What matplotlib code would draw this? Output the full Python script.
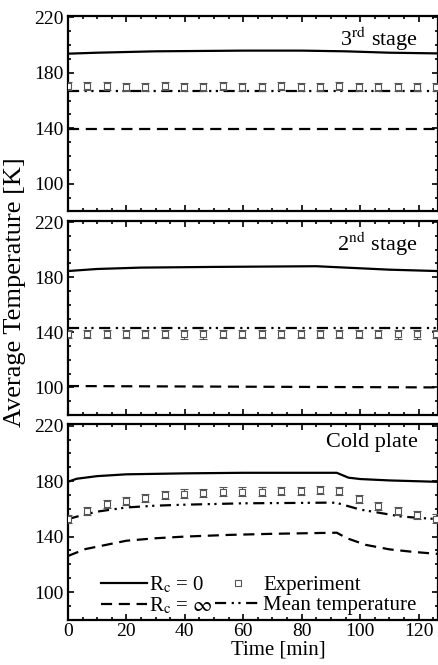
import matplotlib.pyplot as plt
from matplotlib.lines import Line2D
from matplotlib.ticker import MultipleLocator

plt.rcParams["font.family"] = ["Liberation Serif", "DejaVu Serif"]
plt.rcParams["mathtext.fontset"] = "stix"

# experiment sample times [min]
t_exp = [0, 6.6, 13.3, 19.9, 26.5, 33.2, 39.8, 46.4, 53.1, 59.7,
         66.3, 73.0, 79.6, 86.2, 92.9, 99.5, 106.1, 112.8, 119.4, 126.0]

# 3rd stage
t_s3 = [0, 10, 30, 60, 80, 95, 110, 126.5]
rc0_s3 = [193.8, 194.5, 195.5, 196.0, 196.0, 195.5, 194.5, 194.0]
t_flat = [0, 126.5]
rcinf_s3 = [139.5, 139.5]
mean_s3 = [167.0, 167.0]
exp_s3 = [170.5, 170.5, 170.5, 170, 170, 170.5, 170, 170, 170.5, 170,
          170, 170.5, 170, 170, 170.5, 170, 170, 170, 170, 170]

# 2nd stage
t_s2 = [0, 10, 25, 50, 85, 95, 110, 126.5]
rc0_s2 = [184.5, 186.0, 187.0, 187.5, 188.0, 187.0, 185.5, 184.5]
rcinf_s2 = [101.0, 100.0]
mean_s2 = [143.5, 143.5]
exp_s2 = [139, 139, 139, 139, 139, 139, 138.5, 138.5, 139, 139,
          139, 139, 139, 139, 139, 139, 139, 138.5, 138.5, 139]

# cold plate
t_cp0 = [0, 3, 10, 20, 40, 60, 90, 92, 96, 100, 110, 126.5]
rc0_cp = [179.5, 181.7, 183.6, 184.9, 185.6, 186.0, 186.0, 186.0, 182.5, 181.5, 180.5, 179.5]
t_cpm = [0, 5, 10, 20, 30, 40, 60, 80, 90, 92, 100, 107, 114, 120, 126.5]
mean_cp = [152.6, 155.5, 158.0, 161.0, 162.3, 163.0, 164.0, 164.3, 164.5, 164.3,
           159.5, 157.0, 154.5, 153.5, 152.6]
t_cpi = [0, 6, 13, 20, 30, 40, 55, 70, 92, 95.5, 102, 110, 118, 126.5]
rcinf_cp = [126.0, 131.0, 134.0, 137.0, 138.8, 140.0, 141.2, 142.0, 142.8, 138.8,
            134.0, 130.8, 129.0, 127.5]
exp_cp = [152.5, 158.5, 163.5, 165.5, 168, 170, 171, 171.5, 172.5, 172.5,
          172.5, 173, 173, 173.5, 173, 167, 162, 158.5, 155.5, 153]

err = 3.0

panels = [
    ("3$^{\\rm rd}$ stage", (t_s3, rc0_s3), (t_flat, rcinf_s3), (t_flat, mean_s3), exp_s3),
    ("2$^{\\rm nd}$ stage", (t_s2, rc0_s2), (t_flat, rcinf_s2), (t_flat, mean_s2), exp_s2),
    ("Cold plate", (t_cp0, rc0_cp), (t_cpi, rcinf_cp), (t_cpm, mean_cp), exp_cp),
]

mean_dash = (5, 2.5, 1, 2, 1, 2.5)
gray = "#555555"

fig = plt.figure(figsize=(4.38, 6.65), dpi=100)
boxes = [(0.976, 0.682), (0.668, 0.376), (0.362, 0.068)]
left, right = 0.155, 0.999

for i, (title, solid, dashed, mean, exp) in enumerate(panels):
    top, bot = boxes[i]
    ax = fig.add_axes([left, bot, right - left, top - bot])
    ax.plot(*solid, color="black", lw=1.6)
    ax.plot(*dashed, color="black", lw=1.6, dashes=(5, 3))
    ax.errorbar(t_exp, exp, yerr=err, fmt="s", ms=4.5, mfc="white", mec=gray,
                mew=0.8, ecolor=gray, elinewidth=0.8, capsize=3, capthick=0.8,
                zorder=3)
    ax.plot(*mean, color="black", lw=1.6, dashes=mean_dash)
    ax.set_xlim(0, 126.5)
    ax.set_ylim(80, 221)
    ax.set_yticks([100, 140, 180, 220])
    ax.xaxis.set_major_locator(MultipleLocator(20))
    ax.xaxis.set_minor_locator(MultipleLocator(5))
    ax.yaxis.set_minor_locator(MultipleLocator(10))
    ax.tick_params(which="both", direction="in", top=True, right=True,
                   labelsize=14, width=1.2)
    ax.tick_params(which="major", length=4, pad=3)
    ax.tick_params(axis="x", which="major", pad=2)
    ax.tick_params(which="minor", length=2)
    for s in ax.spines.values():
        s.set_linewidth(1.6)
    ax.text(0.946, 0.955, title, transform=ax.transAxes, ha="right", va="top", fontsize=16)
    if i < 2:
        ax.set_xticklabels([])
    else:
        ax.set_xlabel("Time [min]", fontsize=15)
        ax.xaxis.set_label_coords(0.57, -0.105)
        handles = [
            Line2D([], [], color="black", lw=1.6),
            Line2D([], [], color="black", lw=1.6, dashes=(5, 3)),
            Line2D([], [], ls="none", marker="s", ms=4, mfc="white", mec=gray, mew=0.8),
            Line2D([], [], color="black", lw=1.6, dashes=mean_dash),
        ]
        labels = ["R$_{\\rm c}$ = 0", "R$_{\\rm c}$ = $\\infty$", "Experiment", "Mean temperature"]
        ax.legend(handles, labels, ncol=2, loc="lower left", bbox_to_anchor=(0.055, -0.045),
                  frameon=False, fontsize=15, handlelength=2.2,
                  handletextpad=0.1, columnspacing=0.15, labelspacing=0.0,
                  borderaxespad=0.2)

fig.text(0.034, 0.56, "Average Temperature [K]", rotation=90, ha="center",
         va="center", fontsize=19)

fig.savefig("out.png", dpi=100)
